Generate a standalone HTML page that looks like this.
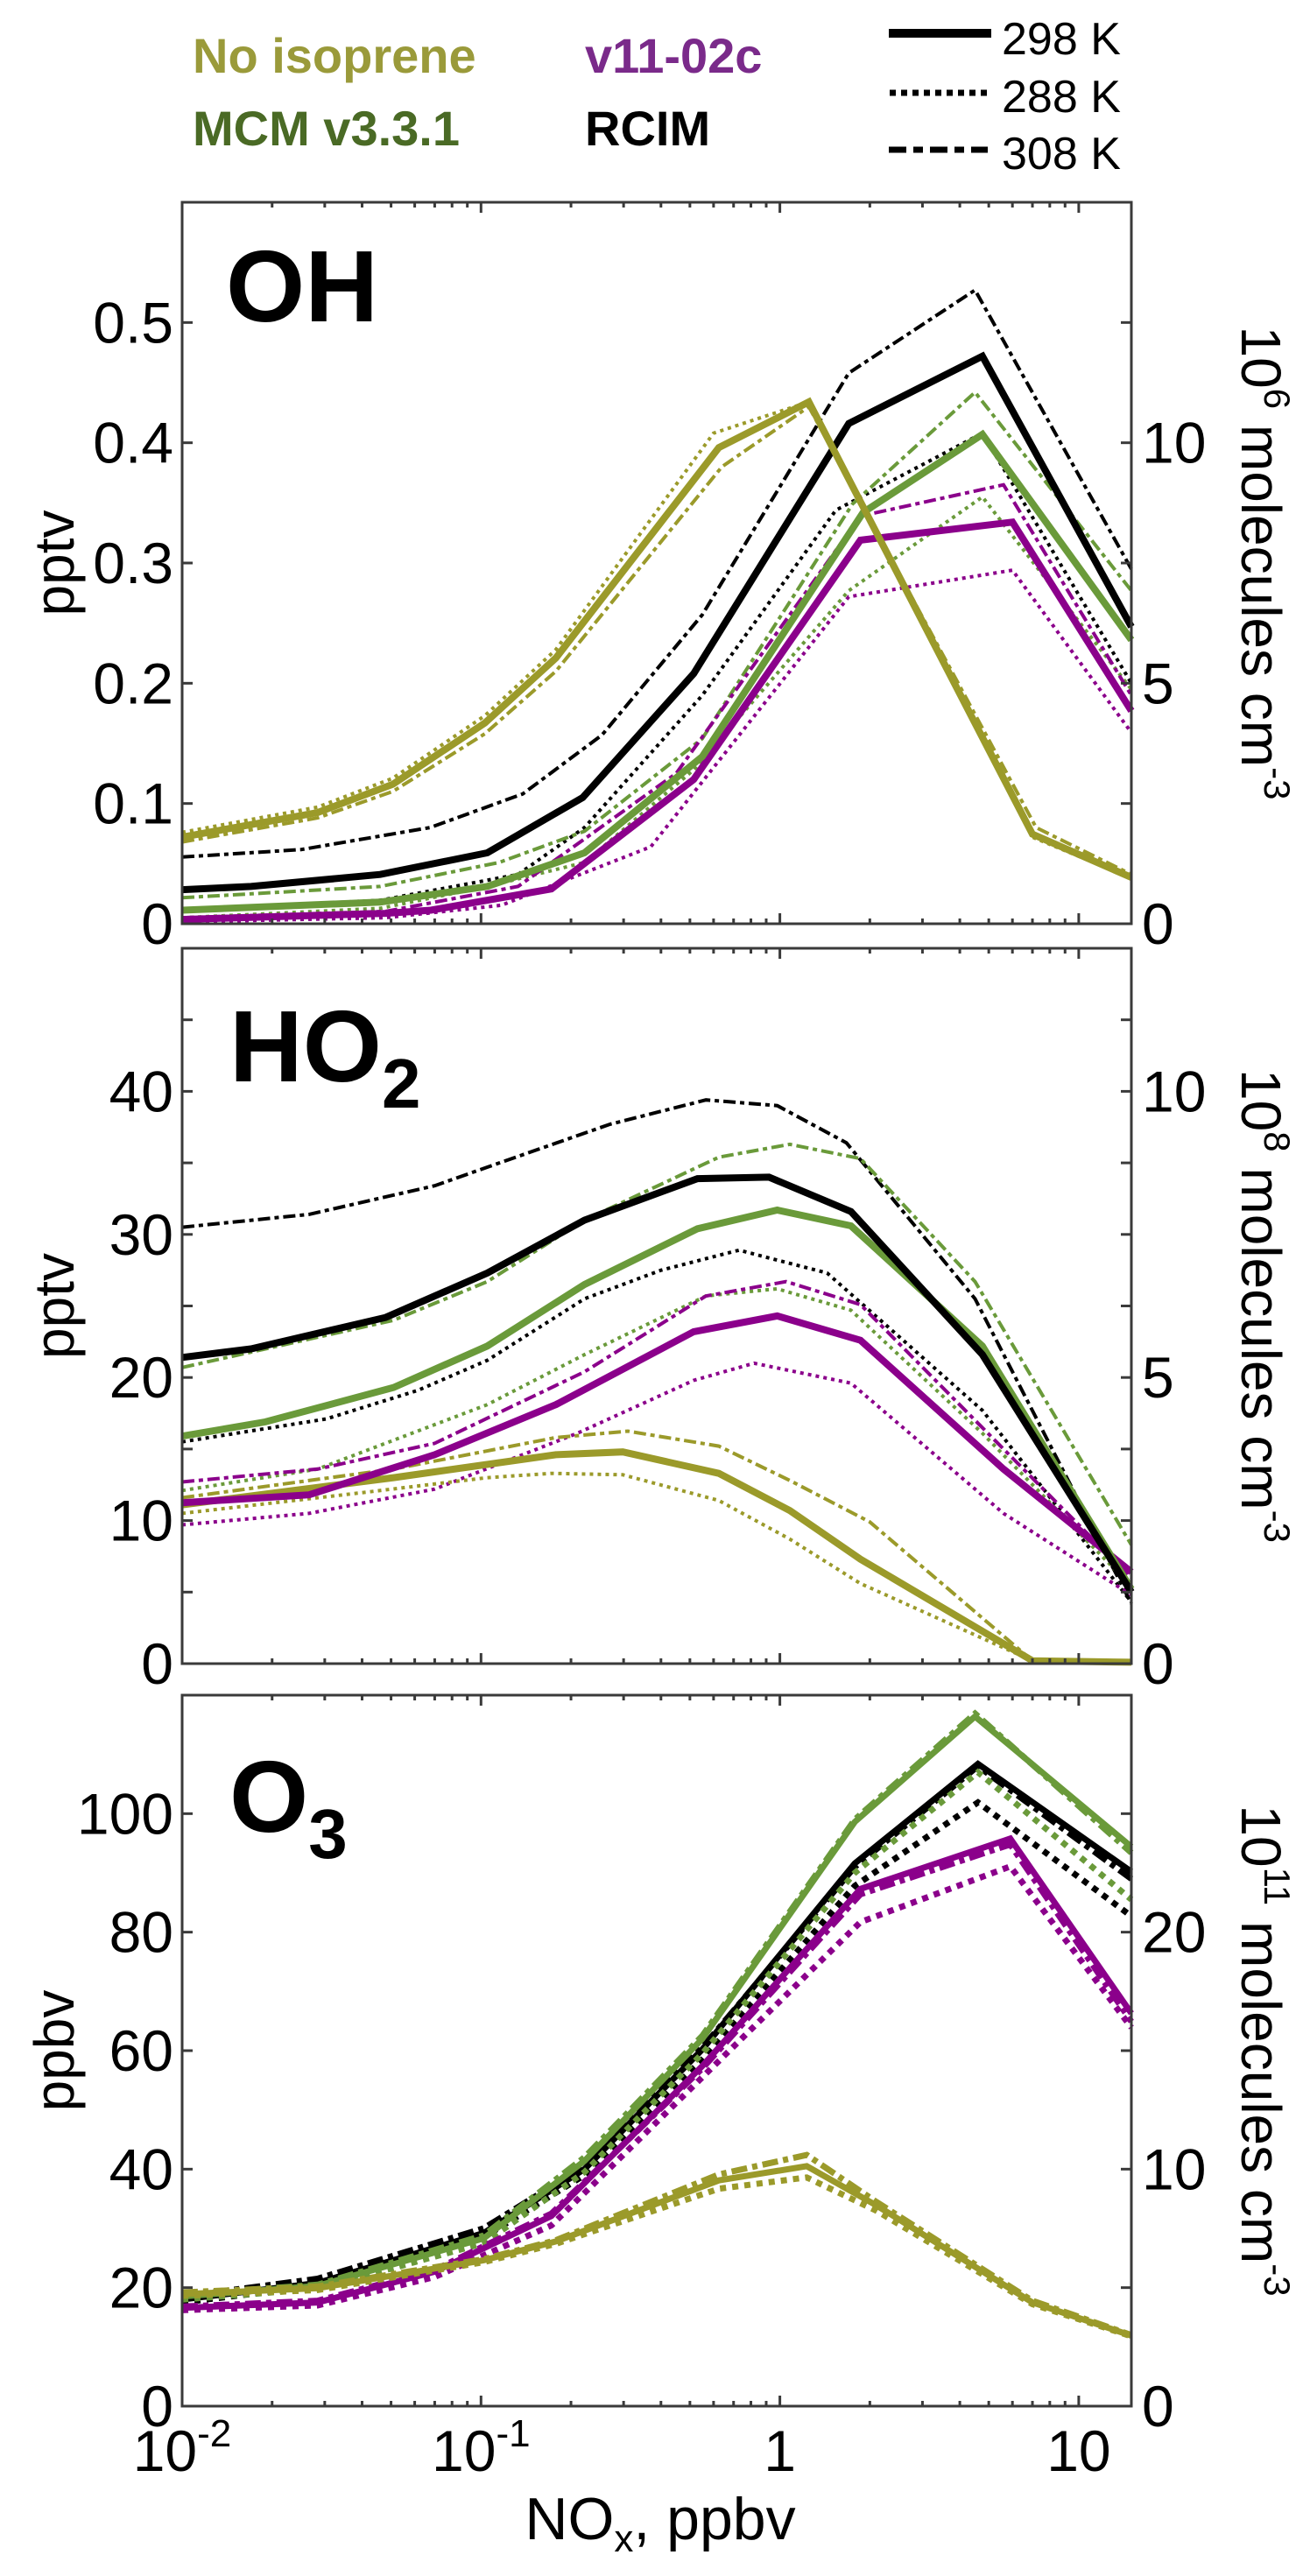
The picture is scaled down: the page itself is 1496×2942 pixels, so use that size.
<!DOCTYPE html>
<html><head><meta charset="utf-8"><style>
html,body{margin:0;padding:0;background:#fff;}
svg{display:block;}
text{font-family:"Liberation Sans",sans-serif;}
</style></head><body>
<svg id="chart" width="1496" height="2942" viewBox="0 0 1496 2942" xmlns="http://www.w3.org/2000/svg">
<g id="legend">
<text x="220" y="83" font-size="56" font-weight="bold" fill="#9a9a3a">No isoprene</text>
<text x="220" y="166" font-size="56" font-weight="bold" fill="#4a6a25">MCM v3.3.1</text>
<text x="668" y="83" font-size="56" font-weight="bold" fill="#7a2a8a">v11-02c</text>
<text x="668" y="166" font-size="56" font-weight="bold" fill="#000">RCIM</text>
<line x1="1015" y1="38" x2="1132" y2="38" stroke="#000" stroke-width="10"/>
<line x1="1016" y1="106" x2="1128" y2="106" stroke="#000" stroke-width="7" stroke-dasharray="7 6"/>
<line x1="1015" y1="171" x2="1128" y2="171" stroke="#000" stroke-width="7" stroke-dasharray="20 8 11 8"/>
<text x="1144" y="62" font-size="52">298 K</text>
<text x="1144" y="128" font-size="52">288 K</text>
<text x="1144" y="193" font-size="52">308 K</text>
</g>
</svg>
<script>
// ---- data: NOx (ppbv) and mixing ratios ----
const xTickVals = [0.01, 0.1, 1, 10];
const xTickLabels = [["10","-2"],["10","-1"],["1",""],["10",""]];

// OH (pptv)
const OH_noiso_298_x = [0.01,0.0284,0.0507,0.103,0.178,0.625,1.25,7.0,15];
const OH_noiso_298_y = [0.072,0.0925,0.116,0.167,0.221,0.396,0.434,0.0745,0.0385];
const OH_noiso_288_x = [0.01,0.0284,0.0507,0.103,0.178,0.6,1.25,7.0,15];
const OH_noiso_288_y = [0.076,0.097,0.121,0.173,0.228,0.408,0.434,0.072,0.038];
const OH_noiso_308_x = [0.01,0.0284,0.0507,0.103,0.178,0.64,1.25,7.2,15];
const OH_noiso_308_y = [0.068,0.088,0.110,0.158,0.21,0.38,0.43,0.08,0.041];
const OH_rcim_298_x = [0.01,0.017,0.046,0.105,0.219,0.515,1.70,4.76,15];
const OH_rcim_298_y = [0.0283,0.031,0.041,0.059,0.105,0.208,0.416,0.472,0.247];
const OH_rcim_288_x = [0.01,0.046,0.133,0.222,0.55,1.54,4.76,15];
const OH_rcim_288_y = [0.0113,0.0195,0.041,0.08,0.19,0.344,0.408,0.2];
const OH_rcim_308_x = [0.01,0.025,0.0676,0.138,0.254,0.55,1.70,4.5,15];
const OH_rcim_308_y = [0.0555,0.0617,0.08,0.108,0.157,0.257,0.458,0.527,0.295];
const OH_mcm_298_x = [0.01,0.046,0.105,0.222,0.55,1.9,4.76,15];
const OH_mcm_298_y = [0.0113,0.018,0.031,0.059,0.139,0.342,0.407,0.236];
const OH_mcm_288_x = [0.01,0.046,0.105,0.222,0.515,1.7,4.76,15];
const OH_mcm_288_y = [0.005,0.0128,0.031,0.051,0.128,0.277,0.355,0.195];
const OH_mcm_308_x = [0.01,0.046,0.115,0.222,0.55,1.75,4.5,15];
const OH_mcm_308_y = [0.0216,0.031,0.051,0.077,0.154,0.349,0.442,0.277];
const OH_v11_298_x = [0.01,0.048,0.068,0.172,0.515,1.86,6.0,15];
const OH_v11_298_y = [0.0036,0.0087,0.0113,0.029,0.12,0.319,0.334,0.177];
const OH_v11_288_x = [0.01,0.048,0.117,0.37,1.7,6.0,15];
const OH_v11_288_y = [0.0015,0.005,0.0154,0.064,0.272,0.294,0.159];
const OH_v11_308_x = [0.01,0.048,0.133,0.45,1.86,5.6,15];
const OH_v11_308_y = [0.005,0.0103,0.031,0.125,0.339,0.365,0.19];

// HO2 (pptv)
const HO2_rcim_298_x = [0.01,0.017,0.048,0.105,0.222,0.53,0.92,1.73,4.76,15];
const HO2_rcim_298_y = [21.4,22.0,24.2,27.3,31.0,33.9,34.0,31.6,21.6,5.0];
const HO2_rcim_288_x = [0.01,0.0303,0.0615,0.105,0.222,0.40,0.73,1.44,4.76,15];
const HO2_rcim_288_y = [15.5,17.1,19.1,21.2,25.5,27.5,28.9,27.3,17.7,4.3];
const HO2_rcim_308_x = [0.01,0.0266,0.07,0.105,0.27,0.566,0.98,1.67,4.5,15];
const HO2_rcim_308_y = [30.5,31.4,33.4,34.7,37.7,39.4,39.0,36.4,25.5,4.2];
const HO2_mcm_298_x = [0.01,0.019,0.051,0.105,0.222,0.53,0.98,1.73,4.76,15];
const HO2_mcm_298_y = [15.9,16.9,19.3,22.2,26.5,30.4,31.7,30.6,22.2,5.2];
const HO2_mcm_288_x = [0.01,0.0284,0.105,0.222,0.566,0.98,1.73,4.76,15];
const HO2_mcm_288_y = [12.1,13.6,18.1,21.6,25.7,26.2,24.7,16.1,5.4];
const HO2_mcm_308_x = [0.01,0.051,0.105,0.222,0.625,1.08,1.86,4.5,15];
const HO2_mcm_308_y = [20.7,24.0,26.7,31.0,35.4,36.3,35.3,26.7,8.3];
const HO2_v11_298_x = [0.01,0.0266,0.07,0.178,0.515,0.98,1.86,5.6,15];
const HO2_v11_298_y = [11.25,11.8,14.6,18.1,23.2,24.3,22.6,13.6,6.4];
const HO2_v11_288_x = [0.01,0.0266,0.07,0.21,0.515,0.82,1.73,5.6,15];
const HO2_v11_288_y = [9.7,10.5,12.2,16.1,19.8,21.0,19.6,10.5,4.8];
const HO2_v11_308_x = [0.01,0.0284,0.07,0.222,0.566,1.05,1.86,5.6,15];
const HO2_v11_308_y = [12.7,13.6,15.4,20.4,25.7,26.7,25.1,15.0,6.0];
const HO2_noiso_298_x = [0.01,0.051,0.178,0.298,0.625,1.08,1.86,7.0,15];
const HO2_noiso_298_y = [11.1,13.0,14.6,14.8,13.3,10.7,7.3,0.2,0.1];
const HO2_noiso_288_x = [0.01,0.042,0.105,0.172,0.298,0.625,1.08,1.86,7.0,15];
const HO2_noiso_288_y = [10.5,12.0,13.0,13.3,13.2,11.4,8.7,5.6,0.2,0.1];
const HO2_noiso_308_x = [0.01,0.051,0.178,0.31,0.625,1.08,2.0,7.0,15];
const HO2_noiso_308_y = [11.6,13.6,15.8,16.25,15.2,12.8,9.9,0.2,0.1];

// O3 (ppbv)
const O3_rcim_298_x = [0.01,0.0284,0.102,0.222,0.55,1.78,4.6,15];
const O3_rcim_298_y = [18.0,20.8,29.2,40.0,60.2,91.6,108.4,90.2];
const O3_rcim_288_x = [0.01,0.0284,0.102,0.222,0.55,1.78,4.6,15];
const O3_rcim_288_y = [17.5,20.3,28.5,39,58.5,87.8,101.9,82.7];
const O3_rcim_308_x = [0.01,0.0284,0.102,0.222,0.55,1.78,4.6,15];
const O3_rcim_308_y = [18.5,21.5,30,40.5,60.5,91.0,108,89];
const O3_mcm_298_x = [0.01,0.0284,0.102,0.222,0.55,1.78,4.5,15];
const O3_mcm_298_y = [18.5,20.3,28.3,41.4,62,98.6,116.4,94.4];
const O3_mcm_288_x = [0.01,0.0284,0.102,0.222,0.55,1.78,4.6,15];
const O3_mcm_288_y = [18,19.8,27.5,39.5,59.5,90,107,85.5];
const O3_mcm_308_x = [0.01,0.0284,0.102,0.222,0.55,1.78,4.5,15];
const O3_mcm_308_y = [18.8,20.5,28.8,42,62.5,99,116.9,93.4];
const O3_v11_298_x = [0.01,0.0284,0.07,0.172,0.55,1.86,5.9,15];
const O3_v11_298_y = [16.6,17.5,22.7,32.1,57.4,87.3,95.8,66.3];
const O3_v11_288_x = [0.01,0.0284,0.07,0.172,0.55,1.86,5.9,15];
const O3_v11_288_y = [16.2,17,21.8,30.5,55.5,81.7,91.1,63.9];
const O3_v11_308_x = [0.01,0.0284,0.07,0.172,0.55,1.86,5.9,15];
const O3_v11_308_y = [16.8,17.8,23,32.5,57,86.4,94.8,64.9];
const O3_noiso_298_x = [0.01,0.0284,0.102,0.178,0.625,1.23,2.1,7.0,15];
const O3_noiso_298_y = [18.9,19.9,24.6,27.8,38.1,40.5,33.9,17.5,11.9];
const O3_noiso_288_x = [0.01,0.0284,0.102,0.178,0.625,1.23,2.1,7.0,15];
const O3_noiso_288_y = [18.6,19.6,24.3,27.4,36.7,38.6,33,17.2,11.8];
const O3_noiso_308_x = [0.01,0.0284,0.102,0.178,0.625,1.23,2.1,7.0,15];
const O3_noiso_308_y = [19.2,20.2,24.8,28,39.1,42.4,34.5,17.8,12];

// ---- rendering ----
const NS = "http://www.w3.org/2000/svg";
const svg = document.getElementById("chart");
const X0 = 208, X1 = 1292, LMIN = -2, LMAX = Math.log10(15);
function sx(v){ return X0 + (Math.log10(v) - LMIN) / (LMAX - LMIN) * (X1 - X0); }
function mk(tag, attrs, parent){ const e = document.createElementNS(NS, tag); for (const k in attrs) e.setAttribute(k, attrs[k]); (parent||svg).appendChild(e); return e; }

const COL = {noiso:"#9b9a2a", mcm:"#6a9a3a", v11:"#8b008b", rcim:"#000000"};
const AX = "#3a3a3a";

function panel(cfg){
  const g = mk("g", {});
  
  
  const sy = v => cfg.bot - v / cfg.ymax * (cfg.bot - cfg.top);
  const series = cfg.series;
  series.forEach(s => {
    const pts = s.x.map((xv,i) => sx(xv).toFixed(1) + "," + sy(s.y[i]).toFixed(1)).join(" ");
    const temp = s.t;
    let w, dash = null;
    if (temp === 298) { w = cfg.thick; }
    else if (temp === 288) { w = cfg.thin; dash = cfg.dot; }
    else { w = cfg.thin; dash = cfg.dash; }
    const a = {points: pts, fill:"none", stroke: COL[s.m], "stroke-width": w, "stroke-linejoin":"miter", "stroke-miterlimit":"3"};
    if (dash) a["stroke-dasharray"] = dash;
    const pl = mk("polyline", a, g);
    
    
  });
  const fr = mk("rect", {x:X0, y:cfg.top, width:X1-X0, height:cfg.bot-cfg.top, fill:"none", stroke:AX, "stroke-width":3}, g);
  
  
  for (let d = -2; d <= 1; d++) {
    for (let m = 1; m <= 9; m++) {
      const v = m * Math.pow(10, d);
      if (v > 15) continue;
      const px = sx(v);
      if (px <= X0 + 1) continue;
      const len = m === 1 ? 12 : 6;
      mk("line", {x1:px, y1:cfg.bot, x2:px, y2:cfg.bot-len, stroke:AX, "stroke-width":3}, g);
      mk("line", {x1:px, y1:cfg.top, x2:px, y2:cfg.top+len, stroke:AX, "stroke-width":3}, g);
    }
  }
  for (let v = cfg.tickStep; v < cfg.ymax - 1e-9; v += cfg.tickStep) {
    const py = sy(v);
    mk("line", {x1:X0, y1:py, x2:X0+12, y2:py, stroke:AX, "stroke-width":3}, g);
    mk("line", {x1:X1, y1:py, x2:X1-12, y2:py, stroke:AX, "stroke-width":3}, g);
  }
  cfg.leftLabels.forEach((v,i) => {
    const t = mk("text", {x:198, y:sy(v)+23, "font-size":66, "text-anchor":"end"}, g);
    t.textContent = cfg.leftText[i];
    
    
  });
  cfg.rightLabels.forEach((v,i) => {
    const t = mk("text", {x:1304, y:sy(v)+23, "font-size":66, "text-anchor":"start"}, g);
    t.textContent = cfg.rightText[i];
    
    
  });
  const lab = mk("text", {x:cfg.labX, y:cfg.labY, "font-size":116, "font-weight":"bold"}, g);
  lab.textContent = cfg.label;
  if (cfg.sub) { const ts = mk("tspan", {"font-size":80, dy:30}, lab); ts.textContent = cfg.sub; }
  
  
  const cy = (cfg.top + cfg.bot) / 2;
  const lt = mk("text", {x:0, y:0, "font-size":64, "text-anchor":"middle", transform:`translate(84,${cy}) rotate(-90)`}, g);
  lt.textContent = cfg.unit;
  
  
  const rt = mk("text", {x:0, y:0, "font-size":64, "text-anchor":"middle", transform:`translate(1418,${cy}) rotate(90)`}, g);
  const t1 = mk("tspan", {}, rt); t1.textContent = "10";
  const t2 = mk("tspan", {"font-size":42, dy:-26}, rt); t2.textContent = cfg.exp;
  const t3 = mk("tspan", {dy:26}, rt); t3.textContent = " molecules cm";
  const t4 = mk("tspan", {"font-size":42, dy:-26}, rt); t4.textContent = "-3";
  
  
}

function S(m,t,x,y){ return {m,t,x,y}; }

panel({name:"oh", top:231, bot:1055, ymax:0.6, tickStep:0.1, thick:8, thin:4, dot:"4 5", dash:"14 5 5 5",
  leftLabels:[0,0.1,0.2,0.3,0.4,0.5], leftText:["0","0.1","0.2","0.3","0.4","0.5"],
  rightLabels:[0,0.2,0.4], rightText:["0","5","10"],
  label:"OH", labX:258, labY:367, unit:"pptv", exp:"6",
  series:[
    S("rcim",288,OH_rcim_288_x,OH_rcim_288_y), S("rcim",308,OH_rcim_308_x,OH_rcim_308_y),
    S("mcm",288,OH_mcm_288_x,OH_mcm_288_y), S("mcm",308,OH_mcm_308_x,OH_mcm_308_y),
    S("v11",288,OH_v11_288_x,OH_v11_288_y), S("v11",308,OH_v11_308_x,OH_v11_308_y),
    S("noiso",288,OH_noiso_288_x,OH_noiso_288_y), S("noiso",308,OH_noiso_308_x,OH_noiso_308_y),
    S("v11",298,OH_v11_298_x,OH_v11_298_y), S("mcm",298,OH_mcm_298_x,OH_mcm_298_y),
    S("rcim",298,OH_rcim_298_x,OH_rcim_298_y), S("noiso",298,OH_noiso_298_x,OH_noiso_298_y)
  ]});

panel({name:"ho2", top:1083, bot:1900, ymax:50, tickStep:5, thick:8, thin:4, dot:"4 5", dash:"14 5 5 5",
  leftLabels:[0,10,20,30,40], leftText:["0","10","20","30","40"],
  rightLabels:[0,20,40], rightText:["0","5","10"],
  label:"HO", sub:"2", labX:262, labY:1235, unit:"pptv", exp:"8",
  series:[
    S("rcim",288,HO2_rcim_288_x,HO2_rcim_288_y), S("rcim",308,HO2_rcim_308_x,HO2_rcim_308_y),
    S("mcm",288,HO2_mcm_288_x,HO2_mcm_288_y), S("mcm",308,HO2_mcm_308_x,HO2_mcm_308_y),
    S("v11",288,HO2_v11_288_x,HO2_v11_288_y), S("v11",308,HO2_v11_308_x,HO2_v11_308_y),
    S("noiso",288,HO2_noiso_288_x,HO2_noiso_288_y), S("noiso",308,HO2_noiso_308_x,HO2_noiso_308_y),
    S("noiso",298,HO2_noiso_298_x,HO2_noiso_298_y), S("v11",298,HO2_v11_298_x,HO2_v11_298_y),
    S("mcm",298,HO2_mcm_298_x,HO2_mcm_298_y), S("rcim",298,HO2_rcim_298_x,HO2_rcim_298_y)
  ]});

panel({name:"o3", top:1936, bot:2748, ymax:120, tickStep:20, thick:7, thin:7, dot:"7 7", dash:"18 6 6 6",
  leftLabels:[0,20,40,60,80,100], leftText:["0","20","40","60","80","100"],
  rightLabels:[0,40,80], rightText:["0","10","20"],
  label:"O", sub:"3", labX:262, labY:2092, unit:"ppbv", exp:"11",
  series:[
    S("rcim",288,O3_rcim_288_x,O3_rcim_288_y), S("rcim",308,O3_rcim_308_x,O3_rcim_308_y),
    S("rcim",298,O3_rcim_298_x,O3_rcim_298_y),
    S("mcm",288,O3_mcm_288_x,O3_mcm_288_y), S("mcm",308,O3_mcm_308_x,O3_mcm_308_y),
    S("mcm",298,O3_mcm_298_x,O3_mcm_298_y),
    S("v11",288,O3_v11_288_x,O3_v11_288_y), S("v11",308,O3_v11_308_x,O3_v11_308_y),
    S("v11",298,O3_v11_298_x,O3_v11_298_y),
    S("noiso",288,O3_noiso_288_x,O3_noiso_288_y), S("noiso",308,O3_noiso_308_x,O3_noiso_308_y),
    S("noiso",298,O3_noiso_298_x,O3_noiso_298_y)
  ]});

xTickVals.forEach((v,i) => {
  const t = mk("text", {x:sx(v), y:2822, "font-size":66, "text-anchor":"middle"});
  const a = mk("tspan", {}, t); a.textContent = xTickLabels[i][0];
  if (xTickLabels[i][1]) { const b = mk("tspan", {"font-size":44, dy:-28}, t); b.textContent = xTickLabels[i][1]; }
  
  
});
const xt = mk("text", {x:754, y:2900, "font-size":68, "text-anchor":"middle"});
const xa = mk("tspan", {}, xt); xa.textContent = "NO";
const xb = mk("tspan", {"font-size":44, dy:14}, xt); xb.textContent = "x";
const xc = mk("tspan", {dy:-14}, xt); xc.textContent = ", ppbv";


</script>
</body></html>
